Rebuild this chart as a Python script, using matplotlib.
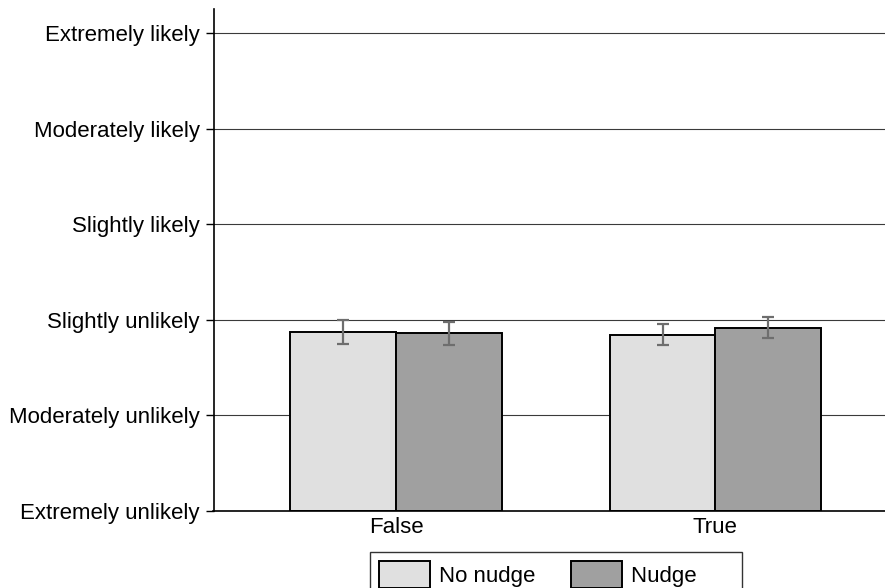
import numpy as np
import matplotlib
matplotlib.use("Agg")
import matplotlib.pyplot as plt

plt.rcParams['font.family'] = ['Liberation Sans', 'DejaVu Sans']

# Likert scale, lowest to highest
levels = ["Extremely unlikely", "Moderately unlikely", "Slightly unlikely",
          "Slightly likely", "Moderately likely", "Extremely likely"]
groups = ["False", "True"]
series = ["No nudge", "Nudge"]

# mean response per group (1 = Extremely unlikely ... 6 = Extremely likely)
no_nudge_mean = [2.872, 2.844]
nudge_mean = [2.859, 2.917]
# half-width of the error bars
no_nudge_err = [0.124, 0.113]
nudge_err = [0.119, 0.110]

BAR_W = 0.331
COLORS = ["#e0e0e0", "#a0a0a0"]

fig = plt.figure(figsize=(8.85, 5.88), dpi=100)
# axes runs a little past the right edge of the figure
ax = fig.add_axes([213.5 / 885, 77 / 588, 684.5 / 885, 502 / 588])

x = np.arange(len(groups))
for i, (means, errs) in enumerate([(no_nudge_mean, no_nudge_err), (nudge_mean, nudge_err)]):
    means = np.array(means)
    off = (i - 0.5) * BAR_W
    ax.bar(x + off, means - 1, bottom=1, width=BAR_W, color=COLORS[i],
           edgecolor="black", linewidth=1.4, label=series[i], zorder=2)
    ax.errorbar(x + off, means, yerr=errs, fmt="none", ecolor="#6e6e6e",
                elinewidth=1.6, capsize=4.3, capthick=1.6, zorder=3)

ax.set_ylim(1, 6.25)
ax.set_xlim(-0.572, 1.572)
ax.set_yticks(np.arange(1, 7))
ax.set_yticklabels(levels)
ax.set_xticks(x)
ax.set_xticklabels(groups)
ax.tick_params(axis="y", length=5.8, width=1.0, pad=4.0, labelsize=16)
ax.tick_params(axis="x", length=0, pad=4.5, labelsize=16)

ax.yaxis.grid(True, color="#3a3a3a", linewidth=0.8, zorder=0)
ax.set_axisbelow(True)
for s in ["top", "right"]:
    ax.spines[s].set_visible(False)
ax.spines["left"].set_linewidth(1.2)
ax.spines["bottom"].set_linewidth(1.2)

handles, labels = ax.get_legend_handles_labels()
labels = [labels[0], labels[1] + "      "]
leg = ax.legend(handles, labels, loc="upper center", bbox_to_anchor=(0.5, -41 / 502),
                ncol=2, frameon=True, fancybox=False, edgecolor="black",
                fontsize=16, handlelength=2.3, handleheight=1.5, handletextpad=0.4,
                columnspacing=1.6, borderaxespad=0, borderpad=0.4)
leg.get_frame().set_linewidth(1.0)
for p in leg.get_patches():
    p.set_linewidth(1.4)

fig.savefig("out.png", dpi=100)
